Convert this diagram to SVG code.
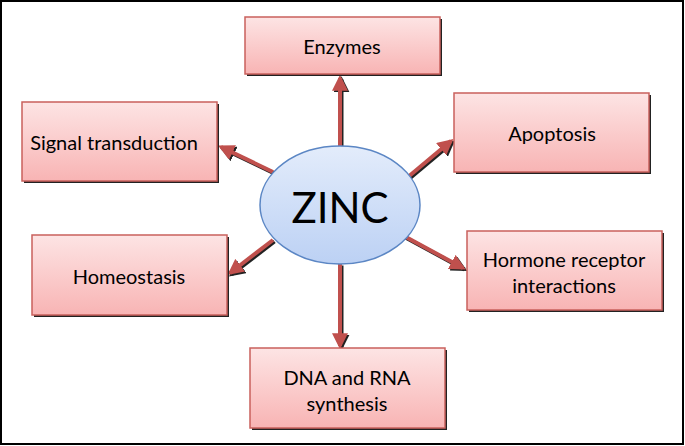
<svg xmlns="http://www.w3.org/2000/svg" width="685" height="446" viewBox="0 0 685 446">
<defs>
<linearGradient id="gBox" x1="0" y1="0" x2="0" y2="1">
<stop offset="0" stop-color="#fde4e4"/>
<stop offset="1" stop-color="#f8b4b4"/>
</linearGradient>
<linearGradient id="gEll" x1="0" y1="0" x2="0" y2="1">
<stop offset="0" stop-color="#e3ecfb"/>
<stop offset="1" stop-color="#bcd1f4"/>
</linearGradient>
<marker id="ah" viewBox="0 0 10 10" refX="8" refY="5" markerWidth="4" markerHeight="4" orient="auto" markerUnits="strokeWidth">
<path d="M0,0 L10,5 L0,10 Z" fill="#c0504d"/>
</marker>
<marker id="ahs" viewBox="0 0 10 10" refX="8" refY="5" markerWidth="4" markerHeight="4" orient="auto" markerUnits="strokeWidth">
<path d="M0,0 L10,5 L0,10 Z" fill="#222"/>
</marker>
</defs>
<style>
.box{fill:url(#gBox);stroke:#c9605c;stroke-width:1.5}
.sh{fill:#222}
.lbl{font-family:Lato,"Liberation Sans",sans-serif;font-size:20px;fill:#000;text-anchor:middle}
.c{stroke:#c0504d;stroke-width:4;fill:none;marker-end:url(#ah)}
.cs{stroke:#222;stroke-width:4;fill:none;marker-end:url(#ahs)}
</style>
<rect x="1" y="1" width="682" height="443" fill="#fff" stroke="#000" stroke-width="2"/>

<g id="connectors">
<g transform="translate(1.5,1.5)">
<line class="cs" x1="340" y1="146" x2="340" y2="78"/>
<line class="cs" x1="273" y1="172" x2="221" y2="147"/>
<line class="cs" x1="408" y1="177" x2="451" y2="141"/>
<line class="cs" x1="273" y1="240" x2="230" y2="273"/>
<line class="cs" x1="404" y1="236" x2="463" y2="268"/>
<line class="cs" x1="340" y1="264" x2="340" y2="346"/>
</g>
<line class="c" x1="340" y1="146" x2="340" y2="78"/>
<line class="c" x1="273" y1="172" x2="221" y2="147"/>
<line class="c" x1="408" y1="177" x2="451" y2="141"/>
<line class="c" x1="273" y1="240" x2="230" y2="273"/>
<line class="c" x1="404" y1="236" x2="463" y2="268"/>
<line class="c" x1="340" y1="264" x2="340" y2="346"/>
</g>

<g id="zinc">
<ellipse cx="340" cy="205" rx="80" ry="59" fill="url(#gEll)" stroke="#5b86c4" stroke-width="1.5"/>
<text x="340" y="223" font-family="Lato,'Liberation Sans',sans-serif" font-size="42" text-anchor="middle" fill="#000">ZINC</text>
</g>

<g id="enzymes">
<rect class="sh" x="247" y="19" width="195" height="57"/>
<rect class="box" x="245" y="17" width="195" height="57"/>
<text class="lbl" x="342" y="54">Enzymes</text>
</g>

<g id="signal">
<rect class="sh" x="24" y="104" width="195" height="79"/>
<rect class="box" x="22" y="102" width="195" height="79"/>
<text class="lbl" x="114" y="150">Signal transduction</text>
</g>

<g id="apoptosis">
<rect class="sh" x="456" y="95" width="195" height="79"/>
<rect class="box" x="454" y="93" width="195" height="79"/>
<text class="lbl" x="552" y="141">Apoptosis</text>
</g>

<g id="homeostasis">
<rect class="sh" x="34" y="237" width="195" height="80"/>
<rect class="box" x="32" y="235" width="195" height="80"/>
<text class="lbl" x="129" y="284">Homeostasis</text>
</g>

<g id="hormone">
<rect class="sh" x="469" y="233" width="195" height="79"/>
<rect class="box" x="467" y="231" width="195" height="79"/>
<text class="lbl" x="564" y="267">Hormone receptor</text>
<text class="lbl" x="564" y="293">interactions</text>
</g>

<g id="dna">
<rect class="sh" x="252" y="350" width="195" height="80"/>
<rect class="box" x="250" y="348" width="195" height="80"/>
<text class="lbl" x="347" y="385">DNA and RNA</text>
<text class="lbl" x="347" y="411">synthesis</text>
</g>
</svg>
